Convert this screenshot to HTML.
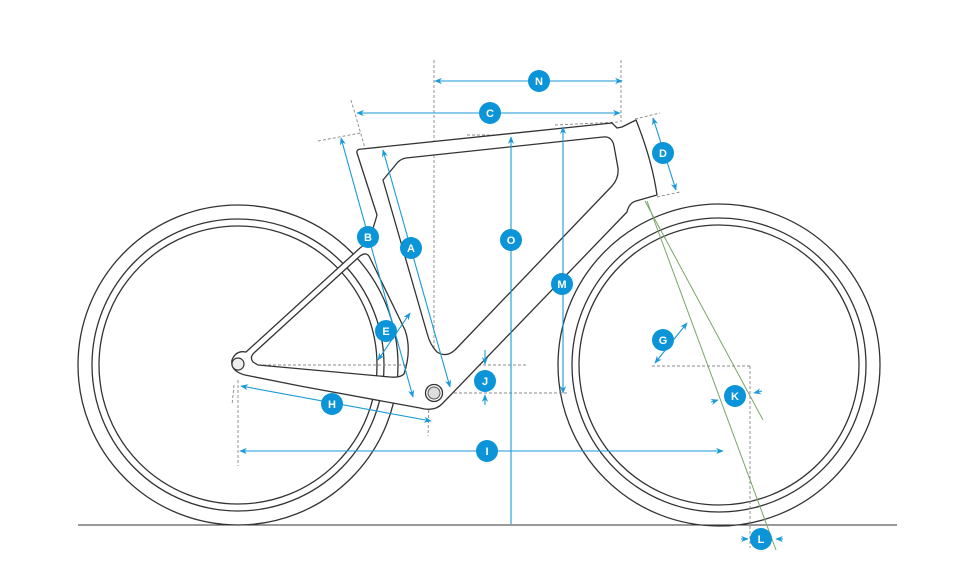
<!DOCTYPE html>
<html><head><meta charset="utf-8"><style>
html,body{margin:0;padding:0;background:#fff;}
svg{display:block;}
.lb{font-family:"Liberation Sans",sans-serif;font-weight:bold;font-size:11px;fill:#fff;text-anchor:middle;}
</style></head><body>
<svg width="960" height="565" viewBox="0 0 960 565" xmlns="http://www.w3.org/2000/svg">
<defs>
<marker id="ar" viewBox="0 0 10 10" refX="9" refY="5" markerWidth="7" markerHeight="7" orient="auto-start-reverse"><path d="M0,1 L10,5 L0,9 L3,5 Z" fill="#1a9ad6"/></marker>
</defs>
<rect width="960" height="565" fill="#fff"/>
<line x1="78" y1="525" x2="897" y2="525" stroke="#333" stroke-width="1"/>
<g fill="none" stroke="#333" stroke-width="1.3">
<circle cx="238" cy="365" r="160"/><circle cx="238" cy="365" r="146"/><circle cx="238" cy="365" r="139"/>
<circle cx="719" cy="365" r="161"/><circle cx="719" cy="365" r="147"/><circle cx="719" cy="365" r="140"/>
</g>
<g fill="none" stroke="#888" stroke-width="0.9" stroke-dasharray="3,2">
<line x1="434" y1="60" x2="434" y2="395"/>
<line x1="621" y1="60" x2="621" y2="122"/>
<line x1="351" y1="100" x2="437" y2="395"/>
<line x1="318" y1="141" x2="360" y2="133"/>
<line x1="357" y1="152" x2="395" y2="146"/>
<line x1="467" y1="135" x2="532" y2="135"/>
<line x1="555" y1="125" x2="620" y2="122"/>
<line x1="635" y1="119" x2="660" y2="113"/>
<line x1="657" y1="197" x2="680" y2="192"/>
<line x1="238" y1="365" x2="527" y2="365"/>
<line x1="434" y1="393" x2="567" y2="393"/>
<line x1="238" y1="380" x2="238" y2="466"/>
<line x1="234" y1="385" x2="232" y2="405"/>
<line x1="408" y1="405" x2="432" y2="400"/>
<line x1="429" y1="400" x2="428" y2="436"/>
<line x1="652" y1="366" x2="750" y2="366"/>
<line x1="750" y1="366" x2="750" y2="548"/>
</g>
<g stroke="#7aa56b" stroke-width="1" fill="none">
<line x1="645" y1="201" x2="763" y2="420"/>
<line x1="647" y1="201" x2="776" y2="550"/>
</g>
<path fill="#fff" fill-rule="evenodd" stroke="#333" stroke-width="1.3" stroke-linejoin="round" d="
M357,153 Q356,149 362,149 L612,123 L617,128 L622,127 L636,120 Q652,160 657,195 L636,201 Q629,203 627,212 L442,404 Q434,412 420,408 L300,386 L245,375 Q230,371 232,360 Q236,350 246,352 L360,248 Q370,242 377,215 Z
M383,180 L398,162 Q401,159 406,158 L603,137 Q612,136 614,146 L618,168 Q619,178 612,186 L455,350 Q446,358 437,352 Q430,345 427,333 Z
M253,362 Q249,357 255,352 L360,256 Q367,251 370,258 L405,330 Q412,350 404,374 Q400,378 390,377 L258,365 Z"/>
<circle cx="238" cy="364" r="6" fill="#eee" stroke="#333" stroke-width="1.2"/>
<circle cx="434" cy="393" r="8.5" fill="#fff" stroke="#333" stroke-width="1.3"/>
<circle cx="434" cy="393" r="6" fill="#ddd" stroke="#555" stroke-width="1"/>
<g stroke="#1a9ad6" stroke-width="1.1" fill="none" marker-start="url(#ar)" marker-end="url(#ar)">
<line x1="435" y1="81" x2="622" y2="81"/>
<line x1="357" y1="113" x2="620" y2="113"/>
<line x1="653" y1="118" x2="676" y2="190"/>
<line x1="511" y1="137" x2="511" y2="524" marker-start="url(#ar)" marker-end="none"/>
<line x1="563" y1="127" x2="563" y2="393"/>
<line x1="383" y1="150" x2="450" y2="387"/>
<line x1="341" y1="138" x2="413" y2="397"/>
<line x1="378" y1="360" x2="410" y2="313"/>
<line x1="241" y1="386" x2="431" y2="421"/>
<line x1="240" y1="451" x2="723" y2="451"/>
<line x1="655" y1="363" x2="687" y2="323"/>
</g>
<g stroke="#1a9ad6" stroke-width="1.1" fill="none" marker-end="url(#ar)">
<line x1="485" y1="350" x2="485" y2="364"/>
<line x1="485" y1="405" x2="485" y2="395"/>
<line x1="711" y1="402" x2="718" y2="400"/>
<line x1="762" y1="391" x2="754" y2="393"/>
<line x1="741" y1="539" x2="748" y2="539"/>
<line x1="783" y1="539" x2="776" y2="539"/>
</g>
<g fill="#0b94d8">
<circle cx="539" cy="81" r="11"/><circle cx="490" cy="113" r="11"/><circle cx="663" cy="153" r="11"/>
<circle cx="511" cy="240" r="11"/><circle cx="562" cy="284" r="11"/><circle cx="411" cy="248" r="11"/>
<circle cx="368" cy="237" r="11"/><circle cx="386" cy="331" r="11"/><circle cx="332" cy="404" r="11"/>
<circle cx="487" cy="451" r="11"/><circle cx="485" cy="381" r="11"/><circle cx="663" cy="340" r="11"/>
<circle cx="735" cy="396" r="11"/><circle cx="761" cy="539" r="11"/>
</g>
<g class="lb">
<text x="539" y="85">N</text><text x="490" y="117">C</text><text x="663" y="157">D</text>
<text x="511" y="244">O</text><text x="562" y="288">M</text><text x="411" y="252">A</text>
<text x="368" y="241">B</text><text x="386" y="335">E</text><text x="332" y="408">H</text>
<text x="487" y="455">I</text><text x="485" y="385">J</text><text x="663" y="344">G</text>
<text x="735" y="400">K</text><text x="761" y="543">L</text>
</g>
</svg>
</body></html>
